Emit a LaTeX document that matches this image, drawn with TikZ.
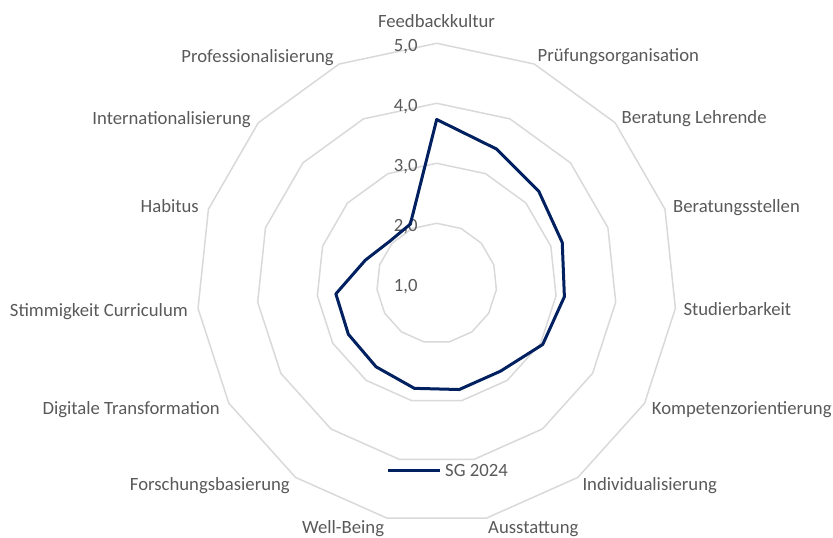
\documentclass[tikz,border=0pt]{standalone}
\usepackage{fontspec}
\setmainfont{Carlito}
\usetikzlibrary{calc}
\definecolor{ringgray}{HTML}{D9D9D9}
\definecolor{txtgray}{HTML}{595959}
\definecolor{navy}{RGB}{0,32,96}
\tikzset{
  ring/.style={draw=ringgray, line width=1.5bp, line join=round},
  dataline/.style={draw=navy, line width=3bp, line join=round},
  lbl/.style={inner sep=0pt, text=txtgray, font=\fontsize{18.7bp}{22bp}\selectfont, yshift=-3.5bp},
}
\begin{document}
\begin{tikzpicture}[x=1bp,y=1bp]
\useasboundingbox (0,0) rectangle (833,538);
\coordinate (C) at (436.7,254.7);
% rings
\foreach \v in {2,3,4,5}{
  \pgfmathsetmacro{\r}{60*(\v-1)}
  \draw[ring, shift={(C)}] (90:\r) \foreach \k in {1,...,14}{ -- ({90-24*\k}:\r)} -- cycle;
}
% value labels
\foreach \v/\t in {5/{5,0},4/{4,0},3/{3,0},2/{2,0},1/{1,0}}{
  \node[lbl, anchor=mid east] (val\v) at ($(C)+(-19,{60*(\v-1)-2})$) {\t};
}
% category labels
\node[lbl, anchor=mid] (c0) at (436.5,516) {Feedbackkultur};
\node[lbl, anchor=mid west] (c1) at (537.5,482) {Prüfungsorganisation};
\node[lbl, anchor=mid west] (c2) at (621.5,420.3) {Beratung Lehrende};
\node[lbl, anchor=mid west] (c3) at (673,331.3) {Beratungsstellen};
\node[lbl, anchor=mid west] (c4) at (683.3,228) {Studierbarkeit};
\node[lbl, anchor=mid west] (c5) at (651.7,129.7) {Kompetenzorientierung};
\node[lbl, anchor=mid west] (c6) at (582.3,53) {Individualisierung};
\node[lbl, anchor=mid west] (c7) at (488,10.3) {Ausstattung};
\node[lbl, anchor=mid east] (c8) at (384.3,10.3) {Well-Being};
\node[lbl, anchor=mid east] (c9) at (290,53) {Forschungsbasierung};
\node[lbl, anchor=mid east] (c10) at (220,129.7) {Digitale Transformation};
\node[lbl, anchor=mid east] (c11) at (188,227.3) {Stimmigkeit Curriculum};
\node[lbl, anchor=mid east] (c12) at (199,331.3) {Habitus};
\node[lbl, anchor=mid east] (c13) at (251,419.7) {Internationalisierung};
\node[lbl, anchor=mid east] (c14) at (334,481.3) {Professionalisierung};
% data points
\foreach \k/\v in {0/3.73,1/3.45,2/3.29,3/3.20,4/3.14,5/3.04,6/2.81,7/2.81,8/2.79,9/2.72,10/2.70,11/2.69,12/2.25,13/2.05,14/2.08}{
  \coordinate (d\k) at ($(C)+({90-24*\k}:{60*(\v-1)})$);
}
\draw[dataline] (d0) -- (d1) -- (d2) -- (d3) -- (d4) -- (d5) -- (d6) -- (d7) -- (d8) -- (d9) -- (d10) -- (d11) -- (d12) -- (d13) -- (d14) -- cycle;
% legend
\coordinate (legA) at (388.3,67.7);
\coordinate (legB) at (440,67.7);
\draw[dataline] (legA) -- (legB);
\node[lbl, anchor=mid west] (legT) at (445,67.7) {SG 2024};
\end{tikzpicture}
\end{document}
